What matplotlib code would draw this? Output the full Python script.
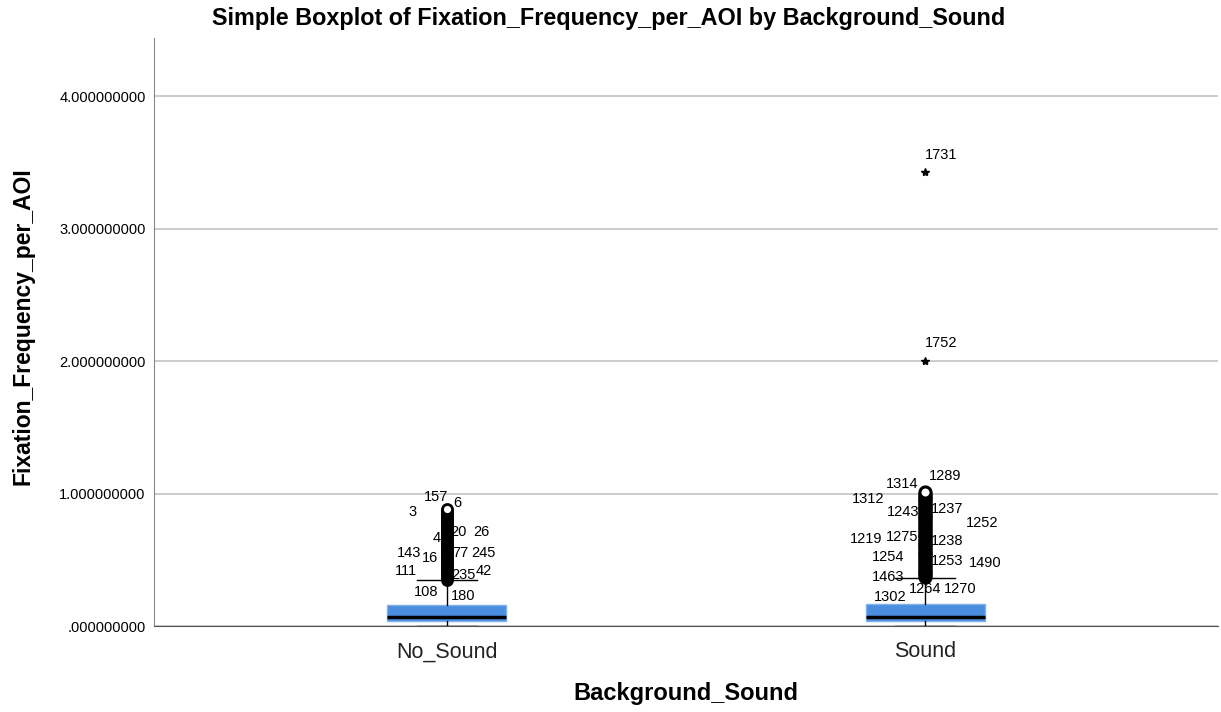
import matplotlib.pyplot as plt
import numpy as np
from matplotlib.ticker import FuncFormatter

plt.rcParams['font.family'] = ['Liberation Sans', 'DejaVu Sans']

# data
groups = ['No_Sound', 'Sound']
q1 = [0.038, 0.038]
med = [0.068, 0.070]
q3 = [0.159, 0.166]
whis_lo = [0.0, 0.0]
whis_hi = [0.348, 0.363]

ns_outliers = [0.35, 0.365, 0.38, 0.39, 0.405, 0.42, 0.43, 0.445, 0.46, 0.47,
               0.485, 0.50, 0.51, 0.53, 0.545, 0.56, 0.575, 0.59, 0.60, 0.615,
               0.63, 0.645, 0.66, 0.67, 0.685, 0.70, 0.715, 0.73, 0.74, 0.755,
               0.77, 0.785, 0.80, 0.81, 0.825, 0.84, 0.855, 0.87, 0.88]
s_outliers = [0.37, 0.385, 0.40, 0.41, 0.425, 0.44, 0.455, 0.47, 0.48, 0.495,
              0.51, 0.525, 0.54, 0.55, 0.565, 0.58, 0.595, 0.61, 0.62, 0.635,
              0.65, 0.665, 0.68, 0.69, 0.705, 0.72, 0.735, 0.75, 0.76, 0.775,
              0.79, 0.805, 0.82, 0.83, 0.845, 0.86, 0.875, 0.89, 0.90, 0.915,
              0.93, 0.945, 0.96, 0.97, 0.985, 1.00, 1.01]
s_extremes = [2.00, 3.43]

ns_labels = ['157', '6', '3', '4', '20', '26', '143', '16', '77', '245',
             '111', '235', '42', '108', '180']
ns_label_y = [0.975, 0.93, 0.862, 0.665, 0.71, 0.71, 0.552, 0.514, 0.552, 0.552,
              0.416, 0.385, 0.416, 0.257, 0.227]
ns_label_dx = [-11, 11, -34, -10, 12, 35, -38, -17, 14, 37, -41, 17, 37, -20, 17]

s_labels = ['1314', '1289', '1312', '1243', '1237', '1252', '1219', '1275', '1238',
            '1254', '1253', '1490', '1463', '1264', '1270', '1302', '1731', '1752']
s_label_y = [1.073, 1.134, 0.96, 0.862, 0.884, 0.779, 0.658, 0.673, 0.642,
             0.52, 0.49, 0.476, 0.37, 0.28, 0.28, 0.22, 3.56, 2.139]
s_label_dx = [-23, 20, -57, -22, 22, 57, -59, -23, 22,
              -37, 22, 60, -37, 0, 35, -35, 16, 16]

fig = plt.figure(figsize=(12.21, 7.12), dpi=100)
ax = fig.add_axes([154/1221, 86/712, 1064/1221, 588/712])

stats = []
for i in range(2):
    stats.append(dict(q1=q1[i], med=med[i], q3=q3[i], whislo=whis_lo[i],
                      whishi=whis_hi[i], fliers=[], label=groups[i]))
pos = [0, 1]
ax.bxp(stats, positions=pos, widths=0.25, capwidths=0.125, patch_artist=True,
       showfliers=False,
       boxprops=dict(facecolor='#4a8fdf', edgecolor='#7fb0ea', linewidth=1),
       medianprops=dict(color='black', linewidth=2.5),
       whiskerprops=dict(color='black', linewidth=1),
       capprops=dict(color='black', linewidth=1), zorder=3)

ax.plot([0]*len(ns_outliers), ns_outliers, 'o', mfc='white', mec='black',
        ms=7.2, mew=2, zorder=4)
ax.plot([1]*len(s_outliers), s_outliers, 'o', mfc='white', mec='black',
        ms=8, mew=2.2, zorder=4)
ax.plot([1]*len(s_extremes), s_extremes, '*', color='black', ms=6, zorder=4)

for lab, y, dx in zip(ns_labels, ns_label_y, ns_label_dx):
    ax.annotate(lab, (0, y), xytext=(dx*0.72, 0), textcoords='offset points',
                ha='center', va='center', fontsize=10.5, zorder=5)
for lab, y, dx in zip(s_labels, s_label_y, s_label_dx):
    ax.annotate(lab, (1, y), xytext=(dx*0.72, 0), textcoords='offset points',
                ha='center', va='center', fontsize=10.5, zorder=5)

ax.set_xlim(-0.611, 1.611)
ax.set_ylim(0, 4.44)
ax.set_yticks([0, 1, 2, 3, 4])
ax.yaxis.set_major_formatter(FuncFormatter(lambda v, p: '.000000000' if v == 0 else '%.9f' % v))
ax.set_xticks(pos)
ax.set_xticklabels(groups, fontsize=15.5, color='#222222')
ax.tick_params(axis='y', labelsize=10.5, length=0, pad=6)
ax.tick_params(axis='x', length=0, pad=11)
ax.grid(axis='y', color='#c4c4c4', linewidth=1.2, zorder=0)
ax.set_axisbelow(True)
for s in ['top', 'right']:
    ax.spines[s].set_visible(False)
ax.spines['left'].set_color('#888888')
ax.spines['bottom'].set_color('#555555')

ax.set_ylabel('Fixation_Frequency_per_AOI', fontsize=16.5, fontweight='bold')
ax.yaxis.set_label_coords(-0.123, 0.51)
ax.set_xlabel('Background_Sound', fontsize=17, fontweight='bold')
ax.xaxis.set_label_coords(0.5, -0.1156)
ax.xaxis.label.set_va('center')
ax.yaxis.label.set_va('center')
fig.text(609/1221, 1 - 19/712, 'Simple Boxplot of Fixation_Frequency_per_AOI by Background_Sound',
         ha='center', va='center', fontsize=16.8, fontweight='bold')

fig.savefig('out.png', dpi=100)
